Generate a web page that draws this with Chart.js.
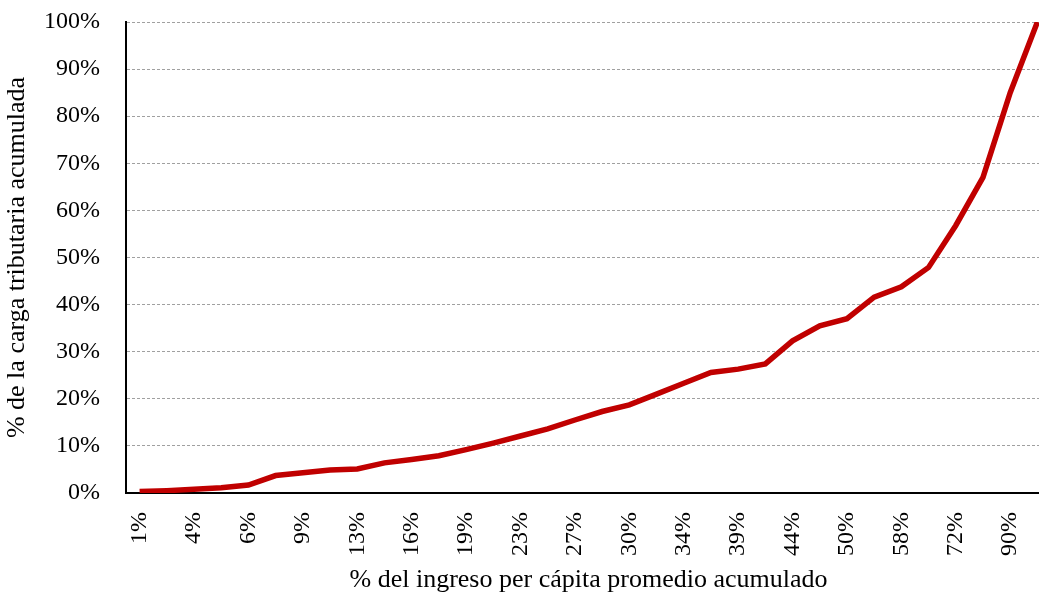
<!DOCTYPE html>
<html>
<head>
<meta charset="utf-8">
<script src="https://cdn.jsdelivr.net/npm/chart.js@4.4.0/dist/chart.umd.min.js"></script>
<style>
  html, body { margin: 0; padding: 0; background: #fff; overflow: hidden; }
  #wrap { width: 1056px; height: 596px; position: relative; }
</style>
</head>
<body>
<div id="wrap"><canvas id="mygraph"></canvas></div>
<script>
// % del ingreso per capita promedio acumulado (every other label is shown)
const categorias = ['1%', '2%', '4%', '5%', '6%', '8%', '9%', '11%', '13%', '14%', '16%', '18%',
  '19%', '21%', '23%', '25%', '27%', '28%', '30%', '32%', '34%', '36%', '39%', '41%',
  '44%', '47%', '50%', '54%', '58%', '64%', '72%', '80%', '90%', '100%']

// % de la carga tributaria acumulada
const cargaAcumulada = [0.3, 0.5, 0.8, 1.1, 1.7, 3.7, 4.3, 4.9, 5.1, 6.4, 7.1, 7.9,
  9.2, 10.6, 12.1, 13.6, 15.5, 17.3, 18.7, 21.0, 23.3, 25.6, 26.3, 27.4,
  32.3, 35.5, 37.0, 41.6, 43.8, 47.9, 56.8, 67.0, 85.0, 100]

const yTicks = [0, 10, 20, 30, 40, 50, 60, 70, 80, 90, 100]

const fuente = "'Liberation Serif', 'Times New Roman', Times, serif"

let ctx = document.getElementById('mygraph').getContext('2d')
new Chart(ctx, {
  type: 'line',
  data: {
    labels: categorias,
    datasets: [{
      label: 'Carga tributaria acumulada',
      data: cargaAcumulada,
      fill: false,
      borderColor: '#C00000',
      backgroundColor: '#C00000',
      borderWidth: 5.5,
      pointRadius: 0,
      tension: 0
    }]
  },
  options: {
    responsive: true,
    maintainAspectRatio: false,
    animation: false,
    layout: { padding: { top: 22, right: 5, bottom: 0, left: 2 } },
    plugins: {
      legend: { display: false },
      tooltip: { enabled: false }
    },
    scales: {
      x: {
        offset: true,
        afterFit: axis => {
          axis.height = 103
          axis.paddingLeft = 0
          axis.paddingRight = 0
        },
        grid: { display: false, drawTicks: false },
        border: { display: true, color: '#000', width: 2 },
        ticks: {
          autoSkip: false,
          maxRotation: 90,
          minRotation: 90,
          padding: 19,
          color: '#000',
          font: { family: fuente, size: 24 },
          callback: (v, i) => i % 2 === 0 ? categorias[i] : ''
        },
        title: {
          display: true,
          text: '% del ingreso per cápita promedio acumulado',
          color: '#000',
          font: { family: fuente, size: 26 },
          padding: { top: 0, bottom: 0 }
        }
      },
      y: {
        min: 0,
        max: 100,
        afterBuildTicks: axis => { axis.ticks = yTicks.map(v => ({ value: v })) },
        afterFit: axis => {
          axis.width = 124
          axis.paddingTop = 0
          axis.paddingBottom = 0
        },
        grid: { color: '#a0a0a0', lineWidth: 1, drawTicks: false },
        border: { display: true, color: '#000', width: 2, dash: [3, 2] },
        ticks: {
          padding: 26,
          color: '#000',
          font: { family: fuente, size: 24 },
          callback: v => v + '%'
        },
        title: {
          display: true,
          text: '% de la carga tributaria acumulada',
          color: '#000',
          font: { family: fuente, size: 26 },
          padding: { top: 0, bottom: 0 }
        }
      }
    }
  }
})
</script>
</body>
</html>
